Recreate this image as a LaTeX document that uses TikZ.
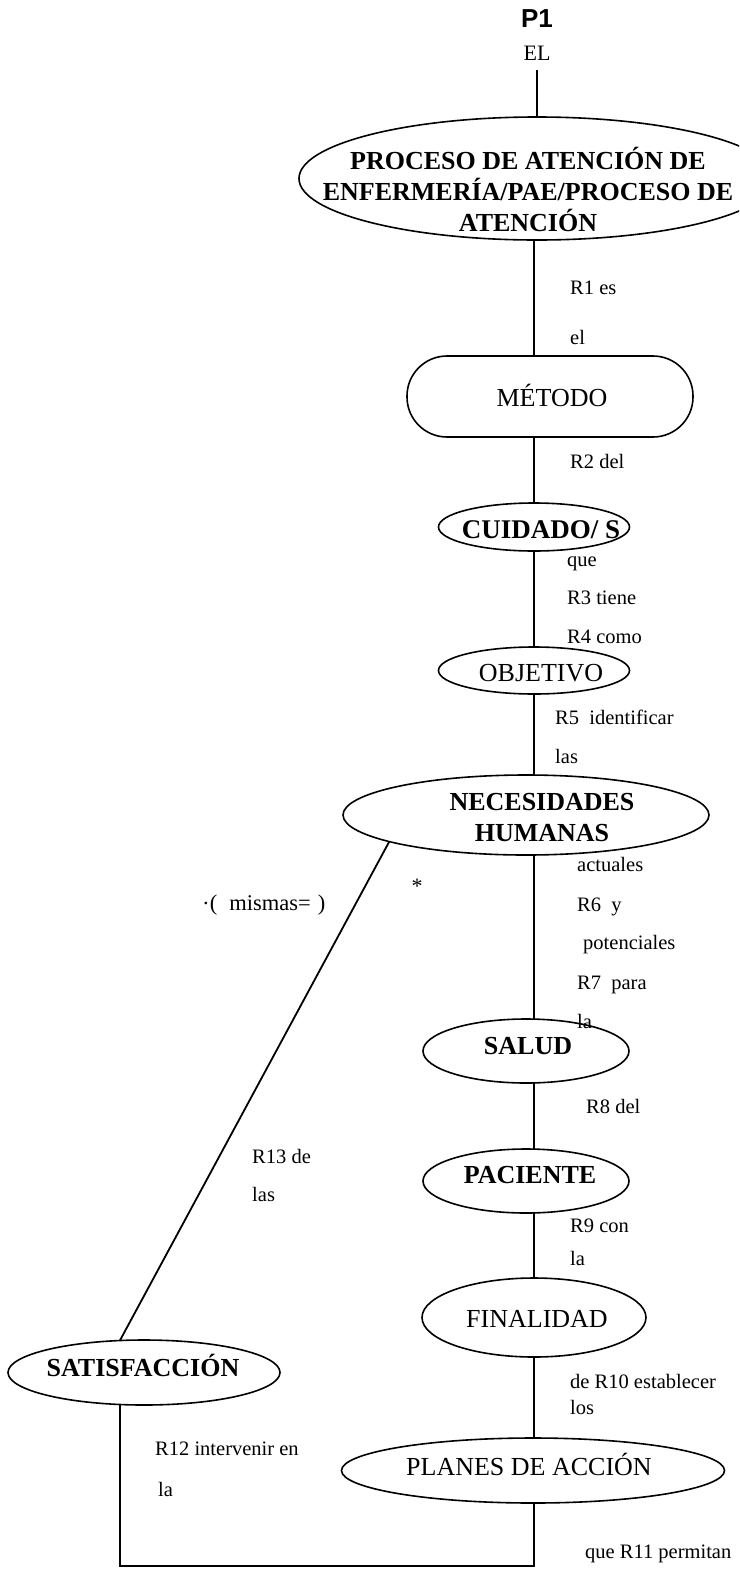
\documentclass[tikz,border=0pt]{standalone}
\usepackage{fontspec}
\setmainfont{Liberation Serif}
\newfontfamily\headsans{Liberation Sans}
\usetikzlibrary{shapes.geometric}

\begin{document}
\begin{tikzpicture}[x=1pt,y=-1pt,
  conn/.style={line width=1.8pt},
  oval/.style={draw,ellipse,line width=1.6pt,inner sep=0pt,outer sep=0pt},
  capsr/.style={font=\fontsize{26}{31}\selectfont,inner sep=0pt,text height=17pt,text depth=0pt},
  capsb/.style={capsr,font=\fontsize{26}{31}\selectfont\bfseries},
  multib/.style={font=\fontsize{26}{31}\selectfont\bfseries,align=center,inner sep=0pt},
  rel/.style={font=\fontsize{20.5}{24}\selectfont,inner sep=0pt,anchor=west,text height=13pt,text depth=0pt},
]
% page frame
\fill[white] (0,0) rectangle (739,1569);
\useasboundingbox (0,0) rectangle (739,1569);
\clip (0,0) rectangle (739,1569);

% heading
\node[font=\headsans\bfseries\fontsize{26}{28}\selectfont,inner sep=0pt,text height=18pt,text depth=0pt] (p1) at (537,18) {P1};
\node[font=\fontsize{22}{26}\selectfont,inner sep=0pt,text height=15pt,text depth=0pt] (el) at (537,53) {EL};

% concept shapes
\node[oval,minimum width=476pt,minimum height=123pt] (pae) at (537,178.5) {};
\node[draw,rectangle,rounded corners=40pt,line width=1.6pt,inner sep=0pt,outer sep=0pt,
      minimum width=286pt,minimum height=81pt] (metodo) at (550,396.5) {};
\node[oval,minimum width=191pt,minimum height=48pt] (cuid) at (534,527) {};
\node[oval,minimum width=191pt,minimum height=47pt] (obj) at (534,670.5) {};
\node[oval,minimum width=366pt,minimum height=80pt] (nec) at (526,815) {};
\node[oval,minimum width=206pt,minimum height=64pt] (salud) at (526,1051) {};
\node[oval,minimum width=206pt,minimum height=64pt] (pac) at (526,1181) {};
\node[oval,minimum width=224pt,minimum height=79pt] (fin) at (534,1317.5) {};
\node[oval,minimum width=383pt,minimum height=65pt] (planes) at (533,1470.5) {};
\node[oval,minimum width=272pt,minimum height=65pt] (satis) at (144,1372.5) {};

% concept texts
\node[multib] (pae-t) at (528,189) {PROCESO DE ATENCIÓN DE\\ENFERMERÍA/PAE/PROCESO DE\\ATENCIÓN};
\node[capsr] (metodo-t) at (552,398) {MÉTODO};
\node[capsb,font=\fontsize{27}{31}\selectfont\bfseries] (cuid-t) at (541,530) {CUIDADO/ S};
\node[capsr] (obj-t) at (541,673) {OBJETIVO};
\node[multib] (nec-t) at (542,817.5) {NECESIDADES\\HUMANAS};
\node[capsb] (salud-t) at (528,1046) {SALUD};
\node[capsb] (pac-t) at (530,1175) {PACIENTE};
\node[capsr] (fin-t) at (537,1319) {FINALIDAD};
\node[capsr] (planes-t) at (529,1467) {PLANES DE ACCIÓN};
\node[capsb] (satis-t) at (143,1368) {SATISFACCIÓN};

% connectors
\coordinate (sp) at (534,0);
\coordinate (br) at (534,1566);
\coordinate (bl) at (120,1566);
\draw[conn] ([yshift=-9.5pt]el.south) -- (pae.north);
\draw[conn] (pae.south -| sp) -- (metodo.north -| sp);
\draw[conn] (metodo.south -| sp) -- (cuid.north -| sp);
\draw[conn] (cuid.south -| sp) -- (obj.north -| sp);
\draw[conn] (obj.south -| sp) -- (nec.north -| sp);
\draw[conn] (nec.south -| sp) -- (salud.north -| sp);
\draw[conn] (salud.south -| sp) -- (pac.north -| sp);
\draw[conn] (pac.south -| sp) -- (fin.north -| sp);
\draw[conn] (fin.south -| sp) -- (planes.north -| sp);
\draw[conn] (planes.south -| br) -- (br) -- (bl) -- (bl |- satis.south);
\draw[conn] (nec.191) -- (satis.127);

% link words
\node[rel] (l1) at (570,288) {R1 es};
\node[rel] (l1b) at (570,338) {el};
\node[rel] (l2) at (570,462) {R2 del};
\node[rel] (l3a) at (567,560) {que};
\node[rel] (l3) at (567,598) {R3 tiene};
\node[rel] (l4) at (567,637) {R4 como};
\node[rel] (l5) at (555,718) {R5\ \ identificar};
\node[rel] (l5b) at (555,757) {las};
\node[rel] (l6a) at (577,865) {actuales};
\node[rel] (l6) at (577,905) {R6\ \ y};
\node[rel] (l6b) at (583,943) {potenciales};
\node[rel] (l7) at (577,983) {R7\ \ para};
\node[rel] (l7b) at (577,1022) {la};
\node[rel] (l8) at (586,1107) {R8 del};
\node[rel] (l9) at (570,1226) {R9 con};
\node[rel] (l9b) at (570,1259) {la};
\node[rel] (l10) at (570,1382) {de R10 establecer};
\node[rel] (l10b) at (570,1408) {los};
\node[rel] (l11) at (585,1552) {que R11 permitan};
\node[rel] (l12) at (155,1449) {R12 intervenir en};
\node[rel] (l12b) at (158,1490) {la};
\node[rel] (l13) at (252,1157) {R13 de};
\node[rel] (l13b) at (252,1195) {las};
\node[font=\fontsize{22}{24}\selectfont,inner sep=0pt] (star) at (417,886) {*};
\node[rel,font=\fontsize{22.5}{26}\selectfont] (mismas) at (203,904) {\raisebox{6pt}{.}\kern1pt(\hspace{12pt}mismas=\hspace{7pt})};
\end{tikzpicture}
\end{document}
